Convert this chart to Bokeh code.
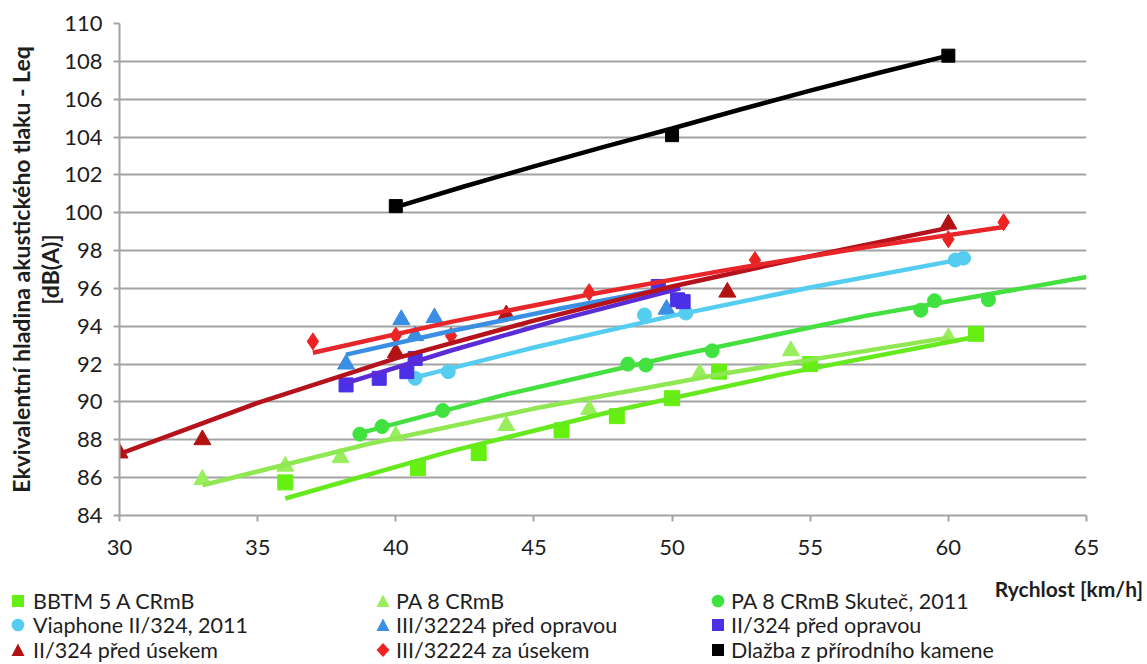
from bokeh.plotting import figure
from bokeh.models import Range1d, FixedTicker, Div
from bokeh.layouts import column
from bokeh.embed import file_html
from bokeh.resources import INLINE

# ---------------- data ----------------
bbtm_x = [36, 40.8, 43, 46, 48, 50, 51.7, 55, 61]
bbtm_y = [85.75, 86.5, 87.3, 88.5, 89.25, 90.2, 91.6, 92.0, 93.6]
bbtm_tx = [36, 42, 48, 54, 61]
bbtm_ty = [84.9, 87.4, 89.56, 91.47, 93.45]

pa8_x = [33, 36, 38, 40, 44, 47, 51, 54.3, 60]
pa8_y = [85.9, 86.6, 87.05, 88.2, 88.75, 89.6, 91.5, 92.7, 93.4]
pa8_tx = [33, 39, 45, 52, 60]
pa8_ty = [85.6, 87.78, 89.65, 91.53, 93.4]

sk_x = [38.7, 39.5, 41.7, 48.4, 49.05, 51.45, 59, 59.5, 61.45]
sk_y = [88.3, 88.7, 89.55, 92.0, 91.95, 92.7, 94.85, 95.35, 95.4]
sk_tx = [38.7, 44, 50, 57, 65]
sk_ty = [88.35, 90.4, 92.4, 94.55, 96.6]

via_x = [40.7, 41.9, 49, 50.5, 60.25, 60.55]
via_y = [91.25, 91.6, 94.6, 94.7, 97.5, 97.6]
via_tx = [40.7, 45, 50, 55, 60.5]
via_ty = [91.3, 92.88, 94.55, 96.05, 97.55]

po3_x = [38.2, 40.2, 40.7, 41.4, 49.8]
po3_y = [92.0, 94.35, 93.5, 94.45, 94.9]
po3_tx = [38.2, 42, 46, 49.8]
po3_ty = [92.5, 93.75, 94.95, 96.0]

po2_x = [38.2, 39.4, 40.4, 40.7, 49.5, 50.2, 50.4]
po2_y = [90.9, 91.25, 91.6, 92.3, 96.1, 95.4, 95.3]
po2_tx = [38.2, 42, 46, 50.3]
po2_ty = [91.0, 92.72, 94.38, 96.0]

pu_x = [30, 33, 40, 44, 52, 60]
pu_y = [87.3, 88.0, 92.6, 94.6, 95.8, 99.4]
pu_tx = [30, 35, 40, 45, 50, 55, 60]
pu_ty = [87.25, 89.95, 92.3, 94.3, 96.1, 97.7, 99.2]

zu_x = [37, 40, 42, 47, 53, 60, 62]
zu_y = [93.2, 93.5, 93.5, 95.8, 97.5, 98.6, 99.5]
zu_tx = [37, 42, 47, 52, 57, 62]
zu_ty = [92.6, 94.23, 95.68, 96.98, 98.17, 99.25]

dl_x = [40, 50, 60]
dl_y = [100.35, 104.1, 108.3]
dl_tx = [40, 42.5, 45, 47.5, 50, 52.5, 55, 57.5, 60]
dl_ty = [100.3, 101.4, 102.45, 103.47, 104.45, 105.47, 106.45, 107.4, 108.3]

names = ["BBTM 5 A CRmB", "PA 8 CRmB", "PA 8 CRmB Skuteč, 2011",
         "Viaphone II/324, 2011", "III/32224 před opravou", "II/324 před opravou",
         "II/324 před úsekem", "III/32224 za úsekem", "Dlažba z přírodního kamene"]

x_ticks = [30, 35, 40, 45, 50, 55, 60, 65]
y_ticks = list(range(84, 111, 2))

x_title = "Rychlost [km/h]"
y_title = "Ekvivalentní hladina akustického tlaku - Leq\n[dB(A)]"

# ---------------- styling ----------------
series = [
    (bbtm_x, bbtm_y, bbtm_tx, bbtm_ty, "square", "#66f00f", "#66ea1e", 15),
    (pa8_x, pa8_y, pa8_tx, pa8_ty, "triangle", "#98ee5c", "#8fe852", 17),
    (sk_x, sk_y, sk_tx, sk_ty, "circle", "#3fe33f", "#44e040", 14),
    (via_x, via_y, via_tx, via_ty, "circle", "#55cdf0", "#55cdf0", 14),
    (po3_x, po3_y, po3_tx, po3_ty, "triangle", "#3a8ee3", "#3a8ee3", 17),
    (po2_x, po2_y, po2_tx, po2_ty, "square", "#4a30e6", "#5a2cd8", 14),
    (pu_x, pu_y, pu_tx, pu_ty, "triangle", "#b31212", "#b5121b", 17),
    (zu_x, zu_y, zu_tx, zu_ty, "diamond", "#ee2222", "#e8262a", 17),
    (dl_x, dl_y, dl_tx, dl_ty, "square", "#000000", "#000000", 13),
]

FONT = "Lato"
TXT = "#1e1e1e"
W = 1147
FL, FR, FT, FB = 119, 1086, 23, 515   # frame edges in pixels
H = 564                               # main figure height
LEG_H = 100                           # legend strip height

p = figure(width=W, height=H, x_range=Range1d(30, 65), y_range=Range1d(84, 110),
           output_backend="svg", toolbar_location=None,
           min_border_left=FL, min_border_right=W - FR, min_border_top=FT,
           min_border_bottom=H - FB)
p.outline_line_color = None
p.xgrid.visible = False
p.ygrid.grid_line_color = "#a3a3a3"
p.ygrid.grid_line_width = 2

p.xaxis.ticker = FixedTicker(ticks=x_ticks)
p.yaxis.ticker = FixedTicker(ticks=y_ticks)
for ax in (p.xaxis, p.yaxis):
    ax.axis_line_color = "#a3a3a3"
    ax.axis_line_width = 2
    ax.major_tick_line_color = "#a3a3a3"
    ax.major_tick_line_width = 2
    ax.major_tick_in = 0
    ax.major_tick_out = 6
    ax.minor_tick_line_color = None
    ax.major_label_text_font = FONT
    ax.major_label_text_font_size = "22px"
    ax.major_label_text_color = TXT
p.xaxis.major_label_standoff = 18
p.yaxis.major_label_standoff = 11
p.yaxis.axis_label = y_title
p.yaxis.axis_label_text_font = FONT
p.yaxis.axis_label_text_font_style = "bold"
p.yaxis.axis_label_text_font_size = "23px"
p.yaxis.axis_label_text_line_height = 1.05
p.yaxis.axis_label_text_color = TXT
p.yaxis.axis_label_standoff = -3

for xs, ys, tx, ty, mk, mc, lc, sz in series:
    p.scatter(xs, ys, marker=mk, size=sz, fill_color=mc, line_color=mc)
for xs, ys, tx, ty, mk, mc, lc, sz in series:
    p.line(tx, ty, line_color=lc, line_width=4.5)

# ---------------- legend strip (3 x 3 grid) + x axis title ----------------
col_mark = [18, 383, 718]     # marker centre x (px)
col_text = [33, 396, 731]     # text start x (px)
row_y = [37, 61, 86]          # row centre y inside the strip (px)

def marker_svg(kind, color, cx, cy):
    s = 14
    shapes = {
        "square": f'<rect x="1" y="1" width="12" height="12" fill="{color}"/>',
        "triangle": f'<polygon points="7,0.5 13.5,13 0.5,13" fill="{color}"/>',
        "circle": f'<circle cx="7" cy="7" r="6.3" fill="{color}"/>',
        "diamond": f'<polygon points="7,0 13.5,7 7,14 0.5,7" fill="{color}"/>',
    }
    return (f'<svg width="{s}" height="{s}" viewBox="0 0 {s} {s}" '
            f'style="position:absolute;left:{cx - s / 2}px;top:{cy - s / 2}px;">'
            f'{shapes[kind]}</svg>')

parts = []
for i, (name, s) in enumerate(zip(names, series)):
    r, c = divmod(i, 3)
    parts.append(marker_svg(s[4], s[5], col_mark[c], row_y[r]))
    parts.append(f'<span style="position:absolute;left:{col_text[c]}px;top:{row_y[r] - 13}px;'
                 f'line-height:26px;white-space:nowrap;">{name}</span>')
parts.append(f'<span style="position:absolute;right:{W - 1143}px;top:{25 - 13}px;line-height:26px;'
             f'font-weight:bold;font-size:21px;white-space:nowrap;">{x_title}</span>')

html = (f'<div style="position:relative;width:{W}px;height:{LEG_H}px;overflow:hidden;'
        f'font-family:{FONT};font-size:21.5px;color:{TXT};">' + "".join(parts) + '</div>')
legend_div = Div(text=html, width=W, height=LEG_H, margin=0)

layout = column(p, legend_div, spacing=0)
open("out.html", "w").write(file_html(layout, INLINE))
